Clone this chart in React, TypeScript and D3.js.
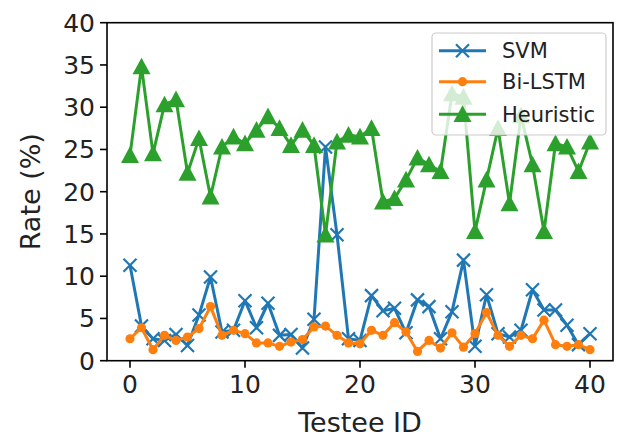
import React from "react";
import { scaleLinear, line, range } from "d3";

const width = 618;
const height = 439;

// plot box in pixels
const box = { left: 107, right: 613, top: 22.7, bottom: 360.7 };

// values
const testeeIds = range(0, 41);
const xTicks = [0, 10, 20, 30, 40];
const yTicks = [0, 5, 10, 15, 20, 25, 30, 35, 40];

const svmRate = [
  11.3, 4.1, 2.6, 2.4, 3.1, 1.8, 5.4, 9.9, 3.4, 3.6, 7.1, 3.9, 6.8, 3.0, 3.1,
  1.5, 4.9, 25.3, 14.9, 2.6, 2.4, 7.7, 5.9, 6.2, 3.3, 7.2, 6.4, 2.6, 5.8, 11.9,
  1.7, 7.8, 3.2, 2.8, 3.6, 8.4, 6.0, 6.0, 4.2, 1.9, 3.2,
];
const lstmRate = [
  2.6, 3.9, 1.3, 3.0, 2.4, 2.8, 3.8, 6.4, 3.0, 3.6, 3.2, 2.1, 2.1, 1.7, 2.2,
  2.5, 4.0, 4.1, 3.0, 2.1, 2.0, 3.6, 3.0, 4.5, 3.4, 1.1, 2.4, 1.5, 3.3, 1.6,
  3.2, 5.7, 3.0, 1.7, 3.0, 2.6, 4.8, 1.9, 1.7, 1.9, 1.3,
];
const heuristicRate = [
  24.3, 34.8, 24.5, 30.3, 30.9, 22.2, 26.3, 19.4, 25.3, 26.5, 25.7, 27.3, 28.9,
  27.5, 25.5, 27.3, 25.5, 14.9, 25.9, 26.7, 26.5, 27.5, 18.8, 19.2, 21.4, 24.0,
  23.2, 22.4, 31.6, 31.2, 15.3, 21.4, 27.5, 18.6, 29.0, 23.2, 15.3, 25.7, 25.3,
  22.4, 25.9,
];

const seriesNames = ["SVM", "Bi-LSTM", "Heuristic"];
const colors = ["#1f77b4", "#ff7f0e", "#2ca02c"];
const markers = ["x", "o", "^"];

const font = "DejaVu Sans, sans-serif";

const Marker = ({ kind, x, y, color }) => {
  if (kind === "x") {
    const r = 6.5;
    return (
      <path
        d={`M${x - r},${y - r}L${x + r},${y + r}M${x - r},${y + r}L${x + r},${y - r}`}
        stroke={color}
        strokeWidth={2.2}
        fill="none"
      />
    );
  }
  if (kind === "o") {
    return <circle cx={x} cy={y} r={4.6} fill={color} />;
  }
  const r = 9;
  return (
    <path
      d={`M${x},${y - r}L${x + r},${y + r * 0.85}L${x - r},${y + r * 0.85}Z`}
      fill={color}
    />
  );
};

export default function App() {
  const xScale = scaleLinear().domain([-2, 42]).range([box.left, box.right]);
  const yScale = scaleLinear().domain([0, 40]).range([box.bottom, box.top]);

  const series = [svmRate, lstmRate, heuristicRate];

  const lineGen = line<number>()
    .x((_, i) => xScale(testeeIds[i]))
    .y((d) => yScale(d));

  const legend = { x: 432, y: 33, w: 174, h: 102 };
  const rowY = [50.7, 81.7, 114.3];

  return (
    <svg
      width={width}
      height={height}
      style={{ position: "absolute", left: 0, top: 0, background: "#fff" }}
      fontFamily={font}
    >
      {/* series */}
      {series.map((vals, s) => (
        <g key={seriesNames[s]}>
          <path d={lineGen(vals)} fill="none" stroke={colors[s]} strokeWidth={3} strokeLinejoin="round" />
          {vals.map((v, i) => (
            <Marker key={i} kind={markers[s]} x={xScale(testeeIds[i])} y={yScale(v)} color={colors[s]} />
          ))}
        </g>
      ))}

      {/* frame */}
      <rect
        x={box.left}
        y={box.top}
        width={box.right - box.left}
        height={box.bottom - box.top}
        fill="none"
        stroke="#000"
        strokeWidth={1.6}
      />

      {/* x axis */}
      {xTicks.map((t) => (
        <g key={t} transform={`translate(${xScale(t)},${box.bottom})`}>
          <line y2={7} stroke="#000" strokeWidth={1.6} />
          <text y={32} textAnchor="middle" fontSize={25} fill="#222">
            {t}
          </text>
        </g>
      ))}
      <text x={(box.left + box.right) / 2} y={432} textAnchor="middle" fontSize={27} fill="#222">
        Testee ID
      </text>

      {/* y axis */}
      {yTicks.map((t) => (
        <g key={t} transform={`translate(${box.left},${yScale(t)})`}>
          <line x2={-7} stroke="#000" strokeWidth={1.6} />
          <text x={-12} dy="0.36em" textAnchor="end" fontSize={25} fill="#222">
            {t}
          </text>
        </g>
      ))}
      <text
        transform={`translate(40,${(box.top + box.bottom) / 2}) rotate(-90)`}
        textAnchor="middle"
        fontSize={27}
        fill="#222"
      >
        Rate (%)
      </text>

      {/* legend */}
      <rect
        x={legend.x}
        y={legend.y}
        width={legend.w}
        height={legend.h}
        rx={4}
        fill="#fff"
        fillOpacity={0.8}
        stroke="#ccc"
        strokeWidth={1.2}
      />
      {seriesNames.map((name, s) => (
        <g key={name}>
          <line x1={439} x2={486} y1={rowY[s]} y2={rowY[s]} stroke={colors[s]} strokeWidth={3} />
          <Marker kind={markers[s]} x={462.5} y={rowY[s]} color={colors[s]} />
          <text x={502} y={rowY[s]} dy="0.36em" fontSize={21} fill="#222">
            {name}
          </text>
        </g>
      ))}
    </svg>
  );
}
